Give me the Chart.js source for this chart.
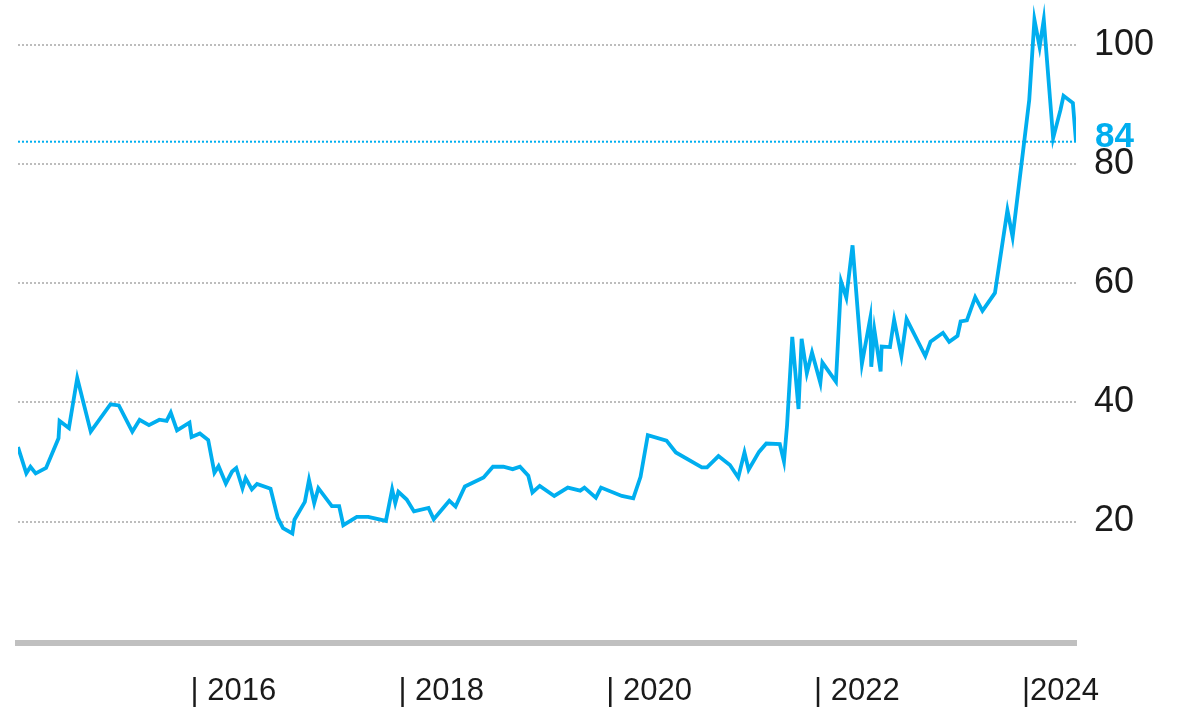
<!DOCTYPE html>
<html>
<head>
<meta charset="utf-8">
<script src="https://cdn.jsdelivr.net/npm/chart.js@4.4.1/dist/chart.umd.min.js"></script>
<style>
    html, body { margin: 0; padding: 0; background: #fff; }
    #wrap { width: 1180px; height: 709px; position: relative; }
</style>
</head>
<body>
<div id="wrap"><canvas id="PriceLineChart"></canvas></div>
<script>
// decimal years
var dates = [2014.34, 2014.42, 2014.46, 2014.51, 2014.61, 2014.73, 2014.74, 2014.83, 2014.91,
    2015.04, 2015.23, 2015.31, 2015.44, 2015.51, 2015.60, 2015.70, 2015.77, 2015.81, 2015.87, 2015.99,
    2016.01, 2016.09, 2016.17, 2016.23, 2016.27, 2016.34, 2016.40, 2016.44, 2016.50, 2016.53, 2016.59, 2016.64, 2016.77, 2016.84, 2016.89, 2016.98,
    2017.00, 2017.10, 2017.14, 2017.19, 2017.23, 2017.36, 2017.43, 2017.47, 2017.60, 2017.71, 2017.88, 2017.94, 2017.97,
    2018.00, 2018.08, 2018.15, 2018.29, 2018.34, 2018.49, 2018.55, 2018.64, 2018.82, 2018.91,
    2019.01, 2019.10, 2019.17, 2019.25, 2019.29, 2019.36, 2019.50, 2019.63, 2019.75, 2019.79, 2019.90, 2019.95,
    2020.15, 2020.26, 2020.33, 2020.40, 2020.58, 2020.67, 2020.92, 2020.97,
    2021.08, 2021.19, 2021.27, 2021.33, 2021.37, 2021.47, 2021.54, 2021.67, 2021.71, 2021.74, 2021.79, 2021.85, 2021.88, 2021.93, 2021.98,
    2022.06, 2022.08, 2022.21, 2022.26, 2022.31, 2022.37, 2022.46, 2022.54, 2022.55, 2022.58, 2022.64, 2022.65, 2022.73, 2022.77, 2022.84, 2022.89,
    2023.07, 2023.12, 2023.24, 2023.30, 2023.38, 2023.41, 2023.47, 2023.55, 2023.62, 2023.74, 2023.86, 2023.91,
    2024.00, 2024.07, 2024.12, 2024.17, 2024.21, 2024.30, 2024.37, 2024.40, 2024.49, 2024.52];

var values = [32.5, 28.1, 29.2, 28.1, 29.0, 34.0, 36.9, 35.7, 44.1,
    35.1, 39.7, 39.5, 35.1, 37.1, 36.2, 37.1, 36.9, 38.3, 35.3, 36.6,
    34.2, 34.8, 33.7, 28.2, 29.3, 26.4, 28.4, 29.0, 25.6, 27.3, 25.4, 26.3, 25.5, 20.6, 18.9, 18.0,
    20.3, 23.3, 27.0, 23.1, 25.6, 22.6, 22.6, 19.4, 20.8, 20.8, 20.1, 25.4, 23.1,
    25.0, 23.7, 21.7, 22.3, 20.4, 23.5, 22.5, 25.9, 27.4, 29.2,
    29.2, 28.8, 29.2, 27.7, 24.9, 26.0, 24.3, 25.7, 25.2, 25.7, 24.0, 25.7,
    24.3, 23.9, 27.5, 34.5, 33.6, 31.6, 29.1, 29.1,
    31.0, 29.5, 27.4, 31.6, 28.7, 31.7, 33.1, 33.0, 30.1, 36.2, 51.0, 38.9, 50.7, 44.9, 48.4,
    43.3, 46.7, 43.5, 60.3, 57.6, 66.4, 46.5, 54.1, 46.0, 52.2, 45.2, 49.4, 49.3, 53.9, 47.8, 54.0,
    47.8, 50.2, 51.7, 50.2, 51.2, 53.6, 53.8, 57.7, 55.4, 58.4, 72.3, 67.8,
    80.7, 90.8, 104.3, 99.7, 104.3, 84.4, 89.1, 91.5, 90.3, 83.8];

var tickYears = [2016, 2018, 2020, 2022, 2024];
var tickLabels = ['| 2016', '| 2018', '| 2020', '| 2022', '|2024'];
var yTicks = [20, 40, 60, 80, 100];

if (dates.length != values.length) {
    throw new Error('dates/values length mismatch ' + dates.length + ' vs ' + values.length);
}

var lineBlue = '#00aeef';
var fontFamily = '"Liberation Sans", Arial, sans-serif';

var points = dates.map(function (d, i) { return { x: d, y: values[i] }; });

// dotted line + bold label at the latest value
var lastValueLine = {
    id: 'lastValueLine',
    beforeDatasetsDraw: function (chart) {
        var ctx = chart.ctx, area = chart.chartArea;
        var last = values[values.length - 1];
        var y = chart.scales.y.getPixelForValue(last);
        ctx.save();
        ctx.strokeStyle = lineBlue;
        ctx.lineWidth = 2;
        ctx.setLineDash([2, 2]);
        ctx.beginPath();
        ctx.moveTo(area.left, y);
        ctx.lineTo(area.right, y);
        ctx.stroke();
        ctx.restore();
    },
    afterDatasetsDraw: function (chart) {
        var ctx = chart.ctx, area = chart.chartArea;
        var last = values[values.length - 1];
        var y = chart.scales.y.getPixelForValue(last);
        ctx.save();
        ctx.fillStyle = lineBlue;
        ctx.font = 'bold 35px ' + fontFamily;
        ctx.textBaseline = 'middle';
        ctx.textAlign = 'left';
        ctx.fillText(String(Math.round(last)), area.right + 19, y - 4);
        ctx.restore();
    }
};

var ctx = document.getElementById('PriceLineChart').getContext('2d');
window.MyPriceChart = new Chart(ctx, {
    type: 'line',
    data: {
        datasets: [{
            data: points,
            borderColor: lineBlue,
            borderWidth: 3.8,
            pointRadius: 0,
            tension: 0,
            fill: false
        }]
    },
    options: {
        responsive: true,
        maintainAspectRatio: false,
        animation: false,
        layout: { padding: { left: 18, top: 0, right: 0, bottom: 0 } },
        plugins: {
            legend: { display: false },
            tooltip: { enabled: false }
        },
        scales: {
            x: {
                type: 'linear',
                min: dates[0],
                max: dates[dates.length - 1],
                afterBuildTicks: function (scale) {
                    scale.ticks = tickYears.map(function (v) { return { value: v }; });
                },
                afterFit: function (scale) {
                    scale.height = 66;
                    scale.paddingLeft = 0;
                    scale.paddingRight = 0;
                },
                grid: { display: false, drawTicks: false },
                border: { display: true, color: '#c0c0c0', width: 6 },
                ticks: {
                    align: 'start',
                    padding: 30,
                    maxRotation: 0,
                    autoSkip: false,
                    color: '#1a1a1a',
                    font: { family: fontFamily, size: 31 },
                    callback: function (value, index) { return tickLabels[index]; }
                }
            },
            y: {
                position: 'right',
                min: -0.4,
                max: 107.6,
                afterBuildTicks: function (scale) {
                    scale.ticks = yTicks.map(function (v) { return { value: v }; });
                },
                afterFit: function (scale) {
                    scale.width = 104;
                    scale.paddingTop = 0;
                    scale.paddingBottom = 0;
                },
                grid: { color: '#bdbdbd', lineWidth: 2, drawTicks: false },
                border: { display: false, dash: [2, 2] },
                ticks: {
                    padding: 18,
                    color: '#1a1a1a',
                    font: { family: fontFamily, size: 36 }
                }
            }
        }
    },
    plugins: [lastValueLine]
});
</script>
</body>
</html>
